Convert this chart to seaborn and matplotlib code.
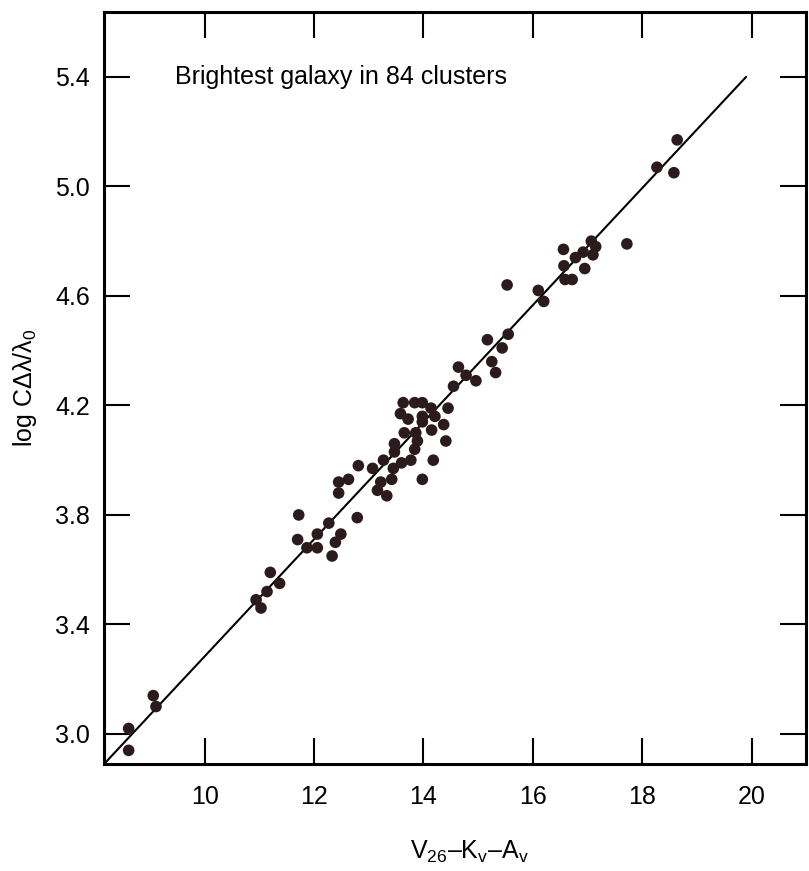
import matplotlib
matplotlib.use("Agg")
import matplotlib.pyplot as plt
import seaborn as sns
import pandas as pd

# magnitude V26 - Kv - Av
mag = [9.06, 9.11, 8.61, 8.61,
       12.27, 12.06, 12.49, 11.70, 11.87, 12.06, 12.39, 12.33, 11.20, 11.37, 11.14, 10.94, 11.03,
       14.78, 14.96, 15.32, 14.55, 13.63, 13.84, 13.98, 13.58, 14.14, 14.45,
       13.98, 14.21, 13.72, 13.98, 14.37, 13.65, 13.86, 14.15, 14.41, 13.89,
       13.47, 13.84, 13.47, 13.27, 13.77, 14.18, 12.81, 13.07, 13.45, 13.60,
       12.45, 12.63, 13.42, 13.22, 13.98, 13.16, 13.33, 12.45, 12.79, 11.72,
       16.56, 16.78, 16.92, 17.10, 16.57, 16.95, 16.59, 16.72, 15.53, 16.10,
       16.20, 15.55, 15.17, 15.44, 15.25, 14.64,
       18.64, 18.27, 18.58, 17.72, 17.07, 17.15]
# log c dlambda / lambda0
log_cz = [3.14, 3.10, 3.02, 2.94,
          3.77, 3.73, 3.73, 3.71, 3.68, 3.68, 3.70, 3.65, 3.59, 3.55, 3.52, 3.49, 3.46,
          4.31, 4.29, 4.32, 4.27, 4.21, 4.21, 4.21, 4.17, 4.19, 4.19,
          4.16, 4.16, 4.15, 4.14, 4.13, 4.10, 4.10, 4.11, 4.07, 4.07,
          4.06, 4.04, 4.03, 4.00, 4.00, 4.00, 3.98, 3.97, 3.97, 3.99,
          3.92, 3.93, 3.93, 3.92, 3.93, 3.89, 3.87, 3.88, 3.79, 3.80,
          4.77, 4.74, 4.76, 4.75, 4.71, 4.70, 4.66, 4.66, 4.64, 4.62,
          4.58, 4.46, 4.44, 4.41, 4.36, 4.34,
          5.17, 5.07, 5.05, 4.79, 4.80, 4.78]

# fitted relation endpoints
fit_x = [8.16, 19.9]
fit_y = [2.89, 5.40]

x_ticks = [10, 12, 14, 16, 18, 20]
y_ticks = [3.0, 3.4, 3.8, 4.2, 4.6, 5.0, 5.4]

df = pd.DataFrame({'mag': mag, 'logcz': log_cz})

sns.set_style('ticks')
plt.rcParams['font.family'] = ['Liberation Sans', 'DejaVu Sans']
plt.rcParams['mathtext.fontset'] = 'custom'
plt.rcParams['mathtext.rm'] = 'Liberation Sans'
plt.rcParams['mathtext.it'] = 'Liberation Sans'
plt.rcParams['text.color'] = 'black'
plt.rcParams['axes.labelcolor'] = 'black'

fig = plt.figure(figsize=(8.09, 8.71), dpi=100)
ax = fig.add_axes([0.1286, 0.1228, 0.868, 0.8634])

ax.plot(fit_x, fit_y, color='black', lw=1.5, zorder=2)
sns.scatterplot(data=df, x='mag', y='logcz', ax=ax, color='#2b1b1c',
                s=70, edgecolor='none', zorder=3)

ax.set_xlim(8.16, 21.0)
ax.set_ylim(2.89, 5.637)
ax.set_xticks(x_ticks)
ax.set_yticks(y_ticks)
ax.set_xticklabels([str(t) for t in x_ticks])
ax.set_yticklabels([f'{t:.1f}' for t in y_ticks])

for s in ax.spines.values():
    s.set_visible(True)
    s.set_linewidth(2.2)
    s.set_color('black')

ax.tick_params(axis='both', direction='in', length=19, width=1.5,
               top=True, right=True, labelsize=18, colors='black')
ax.tick_params(axis='x', pad=15)
ax.tick_params(axis='y', pad=10)

ax.set_xlabel(r'V$_{26}$–K$_{v}$–A$_{v}$', fontsize=18)
ax.xaxis.set_label_coords(0.52, -0.10)
ax.set_ylabel(r'log CΔλ/λ$_{0}$', fontsize=18, labelpad=12)

ax.text(9.45, 5.40, 'Brightest galaxy in 84 clusters', fontsize=18,
        va='center', ha='left')

fig.savefig('out.png', dpi=100)
